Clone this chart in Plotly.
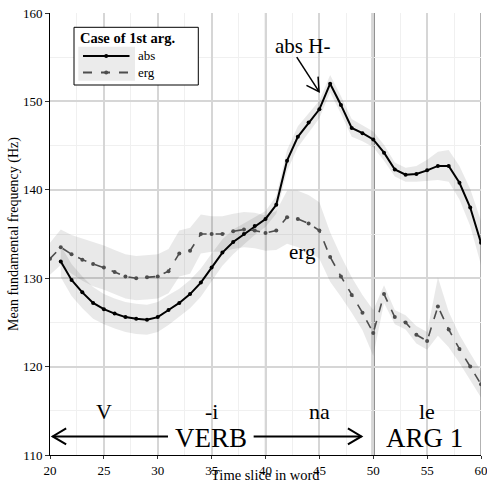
import plotly.graph_objects as go

# ---- data ----
abs_x = list(range(21, 61))
abs_y = [131.9, 129.8, 128.4, 127.2, 126.5, 126.0, 125.6, 125.4, 125.3, 125.6,
         126.4, 127.2, 128.2, 129.5, 131.2, 132.9, 134.1, 135.0, 135.9, 136.7,
         138.3, 143.3, 146.0, 147.6, 149.1, 152.0, 149.6, 147.0, 146.4, 145.7,
         144.2, 142.3, 141.7, 141.8, 142.2, 142.7, 142.7, 140.8, 138.0, 134.0]
abs_se = [1.8, 1.8, 1.8, 1.8, 1.7, 1.7, 1.7, 1.7, 1.7, 1.7,
          1.7, 1.6, 1.6, 1.6, 1.6, 1.5, 1.4, 1.2, 1.0, 0.9,
          1.0, 1.2, 1.2, 1.1, 1.0, 1.0, 1.0, 1.0, 0.9, 0.9,
          0.9, 0.8, 0.8, 0.9, 1.2, 1.6, 1.8, 1.9, 2.1, 2.5]

erg_x = list(range(20, 61))
erg_y = [132.2, 133.5, 132.7, 132.1, 131.6, 131.2, 130.7, 130.2, 130.0, 130.1,
         130.2, 130.8, 132.8, 133.1, 135.0, 135.0, 135.0, 135.3, 135.5, 135.4,
         135.1, 135.4, 136.9, 136.7, 136.2, 135.4, 132.4, 130.2, 128.1, 126.1,
         123.8, 128.2, 125.6, 125.0, 123.6, 122.9, 126.8, 124.2, 122.0, 120.0,
         118.0]
erg_se = [1.8, 2.0, 2.2, 2.4, 2.5, 2.5, 2.5, 2.5, 2.5, 2.5,
          2.5, 2.5, 2.6, 2.6, 2.2, 2.0, 2.0, 2.0, 2.0, 2.0,
          2.0, 2.2, 3.0, 3.2, 3.2, 3.2, 2.8, 2.3, 2.0, 2.0,
          2.6, 1.0, 0.8, 0.8, 1.0, 1.0, 3.3, 2.0, 1.6, 1.5,
          1.5]

x_ticks = [20, 25, 30, 35, 40, 45, 50, 55, 60]
y_ticks = [110, 120, 130, 140, 150, 160]
syllables = ["V", "-i", "na", "le"]
syllable_x = [25, 35, 45, 55]
boundaries = [30, 40, 60]
word_boundary = 50
series_names = ["abs", "erg"]
legend_title = "Case of 1st arg."

FONT = "Liberation Serif"
band = "rgba(0,0,0,0.085)"
ABS_COL = "black"
ERG_COL = "#4d4d4d"

fig = go.Figure()

def ribbon(xs, ys, se):
    up = [y + s for y, s in zip(ys, se)]
    lo = [y - s for y, s in zip(ys, se)]
    return go.Scatter(x=xs + xs[::-1], y=up + lo[::-1], fill="toself",
                      fillcolor=band, line=dict(width=0), mode="lines",
                      hoverinfo="skip", showlegend=False)

fig.add_trace(ribbon(abs_x, abs_y, abs_se))
fig.add_trace(ribbon(erg_x, erg_y, erg_se))

fig.add_trace(go.Scatter(x=abs_x, y=abs_y, mode="lines+markers", name=series_names[0],
                         line=dict(color=ABS_COL, width=2),
                         marker=dict(color=ABS_COL, size=4), showlegend=False))
fig.add_trace(go.Scatter(x=erg_x, y=erg_y, mode="lines+markers", name=series_names[1],
                         line=dict(color=ERG_COL, width=1.6, dash="dash"),
                         marker=dict(color=ERG_COL, size=4), showlegend=False))

shapes = []
for b in boundaries:
    shapes.append(dict(type="line", xref="x", yref="paper", x0=b, x1=b, y0=0, y1=1,
                       line=dict(color="#7f7f7f", width=1.2), layer="below"))
shapes.append(dict(type="line", xref="x", yref="paper", x0=word_boundary, x1=word_boundary,
                   y0=0, y1=1, line=dict(color="#6e6e6e", width=3), layer="below"))

# VERB arrows
ay = 112.1
shapes.append(dict(type="line", x0=20.25, x1=30.95, y0=ay, y1=ay,
                   line=dict(color="black", width=2)))
shapes.append(dict(type="path", path=f"M {21.5},{ay+0.9} L 20.25,{ay} L {21.5},{ay-0.9}",
                   line=dict(color="black", width=2)))
shapes.append(dict(type="line", x0=38.9, x1=48.9, y0=ay, y1=ay,
                   line=dict(color="black", width=2)))
shapes.append(dict(type="path", path=f"M {47.65},{ay+0.9} L 48.9,{ay} L {47.65},{ay-0.9}",
                   line=dict(color="black", width=2)))
# abs H- arrow
tipx, tipy = 44.97, 151.1
shapes.append(dict(type="line", x0=42.9, y0=155.0, x1=tipx, y1=tipy,
                   line=dict(color="black", width=1.5)))
shapes.append(dict(type="path",
                   path=f"M {tipx-1.17},{tipy+0.71} L {tipx},{tipy} L {tipx-0.09},{tipy+1.7}",
                   line=dict(color="black", width=1.5)))

# ---- legend (drawn in plot-area paper coordinates) ----
def px(xp):
    return (xp - 50) / 431

def py(yp):
    return (455 - yp) / 442

shapes.append(dict(type="rect", xref="paper", yref="paper", x0=px(74), x1=px(198.3),
                   y0=py(85), y1=py(27.3), fillcolor="white",
                   line=dict(color="black", width=1), layer="above"))
shapes.append(dict(type="rect", xref="paper", yref="paper", x0=px(78.3), x1=px(135),
                   y0=py(80.7), y1=py(46.7), fillcolor="#ebebeb", line=dict(width=0),
                   layer="above"))
key_rows = [56, 72.5]
key_styles = [(ABS_COL, 2, "solid"), (ERG_COL, 1.8, "dash")]
annotations = []
for name, row, (col, w, dash) in zip(series_names, key_rows, key_styles):
    shapes.append(dict(type="line", xref="paper", yref="paper", x0=px(83), x1=px(129.5),
                       y0=py(row), y1=py(row), line=dict(color=col, width=w, dash=dash),
                       layer="above"))
    shapes.append(dict(type="circle", xref="paper", yref="paper", x0=px(104.2), x1=px(108.2),
                       y0=py(row + 2), y1=py(row - 2), fillcolor=col, line=dict(width=0),
                       layer="above"))
    annotations.append(dict(xref="paper", yref="paper", x=px(135.5), y=py(row), text=name,
                            xanchor="left", yanchor="middle", showarrow=False,
                            font=dict(family=FONT, size=13, color="black")))
annotations.append(dict(xref="paper", yref="paper", x=px(78), y=py(37.5),
                        text=f"<b>{legend_title}</b>", xanchor="left", yanchor="middle",
                        showarrow=False, font=dict(family=FONT, size=14.5, color="black")))

for s, sx in zip(syllables, syllable_x):
    annotations.append(dict(x=sx, y=114.9, text=s, showarrow=False,
                            font=dict(family=FONT, size=22, color="black")))
annotations.append(dict(x=34.9, y=111.9, text="VERB", showarrow=False,
                        font=dict(family=FONT, size=27, color="black")))
annotations.append(dict(x=54.8, y=111.9, text="ARG 1", showarrow=False,
                        font=dict(family=FONT, size=27, color="black")))
annotations.append(dict(x=43.4, y=156.3, text="abs H-", showarrow=False,
                        font=dict(family=FONT, size=21, color="black")))
annotations.append(dict(x=43.4, y=133.0, text="erg", showarrow=False,
                        font=dict(family=FONT, size=21, color="black")))
annotations.append(dict(xref="paper", yref="paper", x=0.5, y=py(474.5), text="Time slice in word",
                        xanchor="center", yanchor="middle",
                        showarrow=False, font=dict(family=FONT, size=14.5, color="black")))
annotations.append(dict(xref="paper", yref="paper", x=px(14), y=0.5, textangle=-90,
                        xanchor="center", yanchor="middle",
                        text="Mean fundamental frequency (Hz)", showarrow=False,
                        font=dict(family=FONT, size=14, color="black")))

fig.update_layout(
    width=487, height=482,
    margin=dict(l=50, r=6, t=13, b=27, autoexpand=False),
    paper_bgcolor="white", plot_bgcolor="white",
    font=dict(family=FONT, size=13, color="black"),
    shapes=shapes, annotations=annotations, showlegend=False,
    xaxis=dict(range=[20, 60], tickvals=x_ticks, ticktext=[str(v) for v in x_ticks],
               showgrid=True, gridcolor="#d6d6d6", gridwidth=1.5,
               minor=dict(dtick=2.5, tick0=22.5, showgrid=True, gridcolor="#f0f0f0", gridwidth=1),
               showline=True, linecolor="black", linewidth=1, ticks="outside", ticklen=3,
               tickcolor="#333", zeroline=False, tickfont=dict(size=13),
               ticklabeloverflow="allow", automargin=False),
    yaxis=dict(range=[110, 160], tickvals=y_ticks, ticktext=[str(v) for v in y_ticks],
               showgrid=True, gridcolor="#d6d6d6", gridwidth=1.5,
               minor=dict(dtick=5, tick0=115, showgrid=True, gridcolor="#f0f0f0", gridwidth=1),
               showline=True, linecolor="black", linewidth=1, ticks="outside", ticklen=4,
               tickcolor="#333", zeroline=False, tickfont=dict(size=13),
               ticklabeloverflow="allow", automargin=False),
)

fig.write_html("out.html")
